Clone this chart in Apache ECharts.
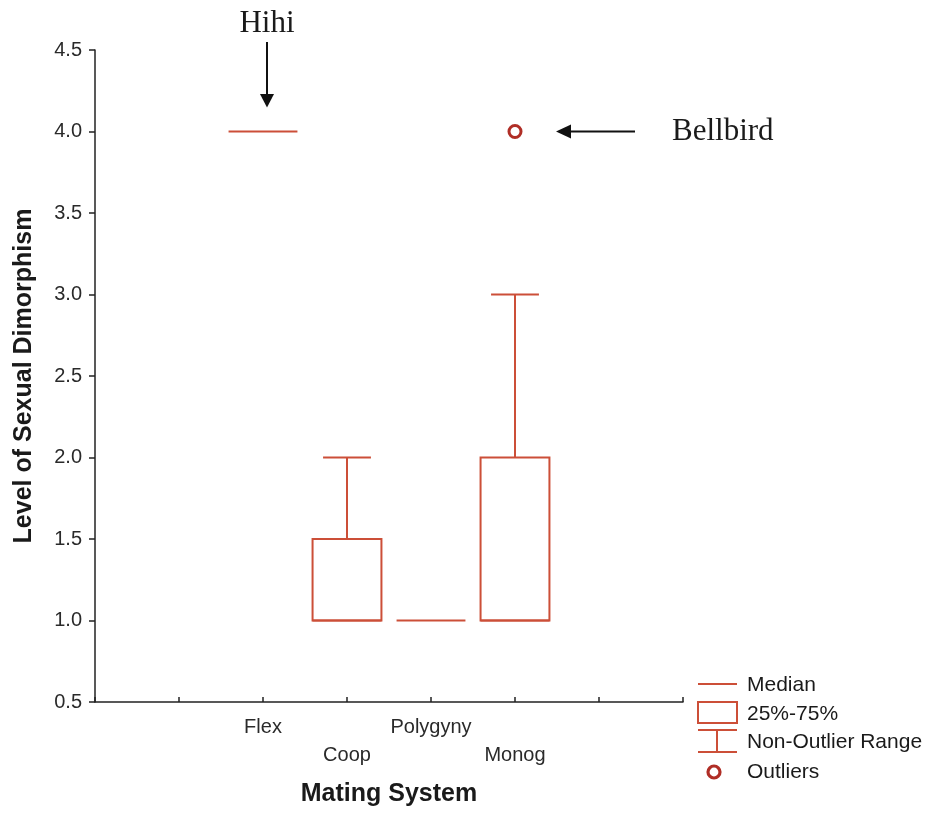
<!DOCTYPE html>
<html>
<head>
<meta charset="utf-8">
<script src="https://cdn.jsdelivr.net/npm/echarts@6/dist/echarts.min.js"></script>
<style>
html,body{margin:0;padding:0;background:#fff;}
#main{width:930px;height:813px;}
</style>
</head>
<body>
<div id="main"></div>
<script>
// ---- data ----
var categories = ['Flex', 'Coop', 'Polygyny', 'Monog'];
var catPositions = [2, 3, 4, 5];
var q1Values = [4.0, 1.0, 1.0, 1.0];
var medianValues = [4.0, 1.0, 1.0, 1.0];
var q3Values = [4.0, 1.5, 1.0, 2.0];
var whiskerLow = [4.0, 1.0, 1.0, 1.0];
var whiskerHigh = [4.0, 2.0, 1.0, 3.0];
var outliers = [[5, 4.0]];
var yTicks = [0.5, 1.0, 1.5, 2.0, 2.5, 3.0, 3.5, 4.0, 4.5];

var LINE = '#cc4f38';
var OUT = '#b02e26';

var boxData = catPositions.map(function (x, i) {
  return [x, q1Values[i], medianValues[i], q3Values[i], whiskerLow[i], whiskerHigh[i]];
});

var chart = echarts.init(document.getElementById('main'));

function renderBox(params, api) {
  var x = api.value(0), q1 = api.value(1), med = api.value(2), q3 = api.value(3), lo = api.value(4), hi = api.value(5);
  var bw = api.size([0.82, 0])[0];
  var cw = api.size([0.57, 0])[0];
  var pQ1 = api.coord([x, q1]), pQ3 = api.coord([x, q3]), pMed = api.coord([x, med]);
  var pLo = api.coord([x, lo]), pHi = api.coord([x, hi]);
  var cx = pQ1[0];
  var st = { stroke: LINE, lineWidth: 2, fill: null };
  var children = [];
  if (q3 > q1) {
    children.push({ type: 'rect', shape: { x: cx - bw / 2, y: pQ3[1], width: bw, height: pQ1[1] - pQ3[1] }, style: st });
  }
  children.push({ type: 'line', shape: { x1: cx - bw / 2, y1: pMed[1], x2: cx + bw / 2, y2: pMed[1] }, style: st });
  if (hi > q3) {
    children.push({ type: 'line', shape: { x1: cx, y1: pQ3[1], x2: cx, y2: pHi[1] }, style: st });
    children.push({ type: 'line', shape: { x1: cx - cw / 2, y1: pHi[1], x2: cx + cw / 2, y2: pHi[1] }, style: st });
  }
  if (lo < q1) {
    children.push({ type: 'line', shape: { x1: cx, y1: pQ1[1], x2: cx, y2: pLo[1] }, style: st });
    children.push({ type: 'line', shape: { x1: cx - cw / 2, y1: pLo[1], x2: cx + cw / 2, y2: pLo[1] }, style: st });
  }
  return { type: 'group', children: children };
}

var labelMap = {};
catPositions.forEach(function (p, i) { labelMap[p] = (i % 2 === 0 ? '' : '\n') + categories[i]; });

chart.setOption({
  animation: false,
  backgroundColor: '#fff',
  grid: { left: 95, right: 247, top: 50, bottom: 111 },
  xAxis: {
    type: 'value', min: 0, max: 7, interval: 1,
    name: 'Mating System', nameLocation: 'middle', nameGap: 80,
    nameTextStyle: { fontFamily: 'Liberation Sans', fontWeight: 'bold', fontSize: 25, color: '#1a1a1a' },
    axisLine: { show: true, lineStyle: { color: '#222', width: 1.5 } },
    axisTick: { show: true, inside: true, length: 5, lineStyle: { color: '#222', width: 1.5 } },
    splitLine: { show: false },
    axisLabel: {
      margin: 11, fontFamily: 'Liberation Sans', fontSize: 20, color: '#2a2a2a', lineHeight: 28,
      showMinLabel: true, showMaxLabel: true,
      formatter: function (v) { return labelMap[v] || ''; }
    }
  },
  yAxis: {
    type: 'value', min: yTicks[0], max: yTicks[yTicks.length - 1], interval: 0.5,
    name: 'Level of Sexual Dimorphism', nameLocation: 'middle', nameGap: 58,
    nameTextStyle: { fontFamily: 'Liberation Sans', fontWeight: 'bold', fontSize: 25, color: '#1a1a1a' },
    axisLine: { show: true, lineStyle: { color: '#222', width: 1.5 } },
    axisTick: { show: true, inside: false, length: 6, lineStyle: { color: '#222', width: 1.5 } },
    splitLine: { show: false },
    axisLabel: {
      margin: 13, fontFamily: 'Liberation Sans', fontSize: 20, color: '#2a2a2a',
      formatter: function (v) { return v.toFixed(1); }
    }
  },
  series: [
    { type: 'custom', renderItem: renderBox, data: boxData, encode: { x: 0, y: [1, 2, 3, 4, 5] }, clip: false },
    {
      type: 'scatter', data: outliers, symbol: 'circle', symbolSize: 12,
      itemStyle: { color: '#fff', borderColor: OUT, borderWidth: 3, opacity: 1 }
    }
  ]
});

// ---- annotations & legend ----
var hihi = chart.convertToPixel({ gridIndex: 0 }, [catPositions[0], medianValues[0]]);
var bell = chart.convertToPixel({ gridIndex: 0 }, outliers[0]);
var serif = 'Liberation Serif';
var gfx = [];
// Hihi
gfx.push({ type: 'text', x: hihi[0] + 4, y: 24, style: { text: 'Hihi', font: '31px ' + serif, fill: '#1a1a1a', textAlign: 'center', textVerticalAlign: 'middle' } });
gfx.push({ type: 'line', shape: { x1: hihi[0] + 4, y1: 42, x2: hihi[0] + 4, y2: 96 }, style: { stroke: '#111', lineWidth: 2 } });
gfx.push({ type: 'polygon', shape: { points: [[hihi[0] - 3, 94], [hihi[0] + 11, 94], [hihi[0] + 4, hihi[1] - 24]] }, style: { fill: '#111' } });
// Bellbird
gfx.push({ type: 'line', shape: { x1: bell[0] + 120, y1: bell[1], x2: bell[0] + 52, y2: bell[1] }, style: { stroke: '#111', lineWidth: 2 } });
gfx.push({ type: 'polygon', shape: { points: [[bell[0] + 56, bell[1] - 7], [bell[0] + 56, bell[1] + 7], [bell[0] + 41, bell[1]]] }, style: { fill: '#111' } });
gfx.push({ type: 'text', x: bell[0] + 157, y: bell[1], style: { text: 'Bellbird', font: '31px ' + serif, fill: '#1a1a1a', textAlign: 'left', textVerticalAlign: 'middle' } });

// Legend
var lx = 698, rx = 737, mx = 717;
var ls = { stroke: LINE, lineWidth: 2, fill: null };
gfx.push({ type: 'line', shape: { x1: lx, y1: 684, x2: rx, y2: 684 }, style: ls });
gfx.push({ type: 'rect', shape: { x: lx, y: 702, width: rx - lx, height: 21 }, style: ls });
gfx.push({ type: 'line', shape: { x1: lx, y1: 730, x2: rx, y2: 730 }, style: ls });
gfx.push({ type: 'line', shape: { x1: mx, y1: 730, x2: mx, y2: 752 }, style: ls });
gfx.push({ type: 'line', shape: { x1: lx, y1: 752, x2: rx, y2: 752 }, style: ls });
gfx.push({ type: 'circle', shape: { cx: 714, cy: 772, r: 6 }, style: { stroke: OUT, lineWidth: 3.2, fill: '#fff' } });
var legendTexts = [['Median', 685], ['25%-75%', 714], ['Non-Outlier Range', 742], ['Outliers', 772]];
legendTexts.forEach(function (t) {
  gfx.push({ type: 'text', x: 747, y: t[1], style: { text: t[0], font: '21px Liberation Sans', fill: '#1a1a1a', textAlign: 'left', textVerticalAlign: 'middle' } });
});
chart.setOption({ graphic: gfx });
</script>
</body>
</html>
